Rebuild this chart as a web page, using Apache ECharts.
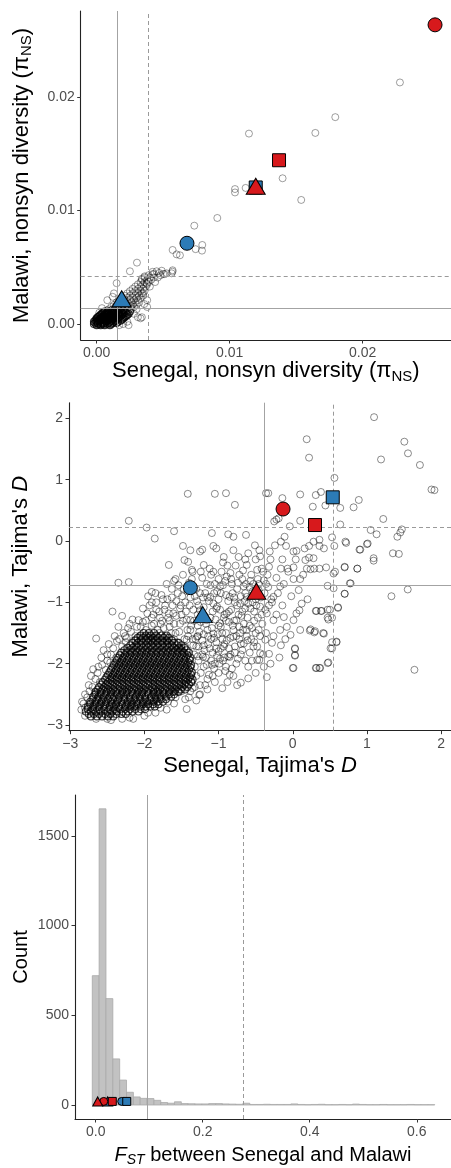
<!DOCTYPE html>
<html><head><meta charset="utf-8">
<script src="https://cdn.jsdelivr.net/npm/echarts@6/dist/echarts.min.js"></script>
<style>html,body{margin:0;padding:0;background:#fff}#c{width:451px;height:1168px}</style>
</head><body><div id="c"></div><script>
// ---------- Panel 1: nonsynonymous diversity ----------
const p1Ticks = [0, 0.01, 0.02];
const p1VLines = [0.00158, 0.0039];   // solid, dashed
const p1HLines = [0.00138, 0.00424];  // solid, dashed
const p1Red = [[0.02544, 0.02638], [0.01371, 0.01444], [0.01196, 0.01215]];   // circle, square, triangle
const p1Blue = [[0.00679, 0.00712], [0.01196, 0.01204], [0.00188, 0.00223]];
const p1Sparse = [
[0.0228,0.0213],[0.01794,0.01824],[0.01644,0.01685],[0.01145,0.01679],[0.01398,0.01285],[0.01538,0.01094],
[0.0104,0.0116],[0.0104,0.0119],[0.0112,0.0120],[0.00907,0.00935],[0.00734,0.00867],
[0.00794,0.00697],[0.00792,0.00647],[0.00744,0.0066],[0.00571,0.00653],[0.00601,0.00614],[0.00626,0.00606],
[0.00571,0.00474],[0.00501,0.00441],[0.00451,0.00465],[0.00489,0.0047],[0.00526,0.00447],[0.00564,0.00447],[0.00570,0.00462],
[0.00303,0.00541],[0.0025,0.00465],[0.00376,0.00359],[0.0042,0.0044],[0.0039,0.0043],[0.0036,0.0042],[0.0034,0.0040],
[0.0015,0.0036],[0.0008,0.0021],[0.0013,0.0027],[0.0034,0.0006],[0.0033,0.0005],[0.0023,0.0002],[0.0028,0.0009],
[0.0038,0.0015],[0.0026,0.0016],[0.0030,0.0013],[0.0020,0.0000],[0.0024,-0.0001],[0.0017,-0.0001],[0.0004,0.0014],
[0.0002,0.0010],[0.0012,0.0024],[0.0038,0.0021],[0.0035,0.0027],[0.0040,0.0033],[0.0044,0.0037],[0.0046,0.0041],
[0.0042,0.0046],[0.0048,0.0043],[0.00358,0.00176],[0.0031,0.0006],[0.0047,0.0045],[0.0051,0.0044],[0.0043,0.0044]
];
const p1CoreRows = [
[-0.0001,[0.0000,0.0003,0.0006,0.0010]],
[0.0000,[-0.0002,0.0001,0.0003,0.0005,0.0008,0.0011]],
[0.0001,[-0.0001,0.0001,0.0004,0.0006,0.0009,0.0012,0.0015]],
[0.0002,[-0.0002,0.0000,0.0002,0.0005,0.0007,0.0010,0.0013,0.0016]],
[0.0003,[-0.0001,0.0001,0.0003,0.0006,0.0008,0.0011,0.0014,0.0018]],
[0.0004,[0.0000,0.0002,0.0004,0.0007,0.0009,0.0012,0.0015,0.0019]],
[0.0005,[0.0000,0.0003,0.0005,0.0008,0.0010,0.0013,0.0016,0.0020]],
[0.0006,[0.0001,0.0004,0.0006,0.0009,0.0011,0.0014,0.0017,0.0021]],
[0.0007,[0.0002,0.0005,0.0007,0.0010,0.0012,0.0015,0.0018,0.0022]],
[0.0008,[0.0003,0.0006,0.0008,0.0011,0.0013,0.0016,0.0019,0.0023]],
[0.0009,[0.0004,0.0007,0.0009,0.0012,0.0014,0.0017,0.0020,0.0024]],
[0.0010,[0.0005,0.0008,0.0011,0.0013,0.0016,0.0019,0.0022]],
[0.0011,[0.0006,0.0009,0.0012,0.0015,0.0018,0.0021,0.0025]]
];
const p1BandRows = [
[0.0012,[0.0008,0.0011,0.0014,0.0017,0.0020,0.0023]],
[0.0013,[0.0009,0.0012,0.0016,0.0019,0.0022,0.0026]],
[0.0015,[0.0011,0.0014,0.0018,0.0021,0.0024,0.0028]],
[0.0017,[0.0013,0.0017,0.0020,0.0023,0.0027,0.0030]],
[0.0019,[0.0015,0.0019,0.0022,0.0026,0.0029,0.0032]],
[0.0021,[0.0017,0.0021,0.0025,0.0028,0.0031]],
[0.0023,[0.0019,0.0023,0.0027,0.0030,0.0033]],
[0.0025,[0.0021,0.0025,0.0029,0.0032,0.0035]],
[0.0027,[0.0023,0.0027,0.0031,0.0034]],
[0.0029,[0.0025,0.0029,0.0033,0.0036]],
[0.0031,[0.0027,0.0031,0.0035]],
[0.0033,[0.0029,0.0033,0.0037]],
[0.0035,[0.0031,0.0035,0.0038]],
[0.0037,[0.0033,0.0036,0.0039]],
[0.0039,[0.0034,0.0038,0.0041]],
[0.0041,[0.0036,0.0040,0.0043]]
];

// ---------- Panel 2: Tajima's D ----------
const p2Ticks = [-3, -2, -1, 0, 1, 2];
const p2VLines = [-0.387, 0.548];
const p2HLines = [-0.723, 0.223];
const p2Red = [[-0.131, 0.522], [0.30, 0.261], [-0.49, -0.82]];
const p2Blue = [[-1.38, -0.76], [0.539, 0.713], [-1.213, -1.20]];
const p2Sparse = [
[1.096,2.02],[0.188,1.66],[0.22,1.36],[1.504,1.62],[1.553,1.43],[1.19,1.33],[1.714,1.24],[0.562,1.03],[1.87,0.84],[1.91,0.83],
[-1.415,0.77],[-1.05,0.77],[-0.90,0.78],[-0.78,0.59],[-0.36,0.78],[-0.33,0.78],[-0.14,0.70],[0.10,0.76],[0.27,0.56],[0.31,0.75],
[0.38,0.80],[0.44,0.58],[0.64,0.54],[0.82,0.55],[0.89,0.67],[1.22,0.36],[-2.21,0.33],[-1.97,0.22],[-1.86,0.04],[-1.6,0.16],
[-1.09,0.13],[-0.87,0.11],[-0.63,0.10],[-0.25,0.32],[-0.22,0.35],[-0.19,0.37],[-0.04,0.24],[0.10,0.33],[0.64,0.27],[1.05,0.18],[1.13,0.11],
[1.41,0.07],[1.47,0.19],[1.45,0.14],[1.00,-0.05],[0.72,-0.03],[0.90,-0.14],[1.09,-0.28],[1.09,-0.32],[1.35,-0.2],[1.43,-0.21],[0.87,-0.45],
[0.70,-0.42],[0.57,-0.50],[0.77,-0.69],[0.70,-0.86],[1.33,-0.9],[1.55,-0.79],[0.61,-1.08],[0.47,-1.12],[0.48,-1.28],[0.31,-1.14],
[0.38,-1.14],[0.24,-1.44],[0.30,-1.47],[0.10,-1.45],[0.41,-1.50],[0.59,-1.64],[0.51,-1.75],[0.47,-1.99],[0.31,-2.07],[0.36,-2.07],
[0.0,-2.07],[0.03,-1.87],[0.03,-1.75],[-0.16,-1.70],[1.64,-2.1],[0.09,-1.13],[0.01,-1.29],[-0.12,-1.24],[-0.03,-1.53],[-0.28,-1.66],
[-0.32,-1.84],[-0.35,-2.22],[-0.45,-1.94],[-0.70,-2.31],[-0.60,-2.24],[-0.85,-2.18],[-1.26,-2.51],[-1.43,-2.74],[-2.65,-1.59],[-2.43,-1.15],
[-2.37,-1.63],[-2.69,-2.09],[-2.30,-1.22],[-2.35,-1.4],[-2.08,-1.29],
[-0.51,-0.07],[-0.45,-0.15],[-0.31,-0.17],[-0.24,-0.07],[-0.16,-0.01],[-0.11,0.07],[-0.09,-0.08],[0.01,-0.17],[0.05,-0.16],[0.16,-0.12],
[0.22,-0.08],[0.28,-0.01],[0.36,0.02],[0.36,-0.08],[0.42,-0.12],[0.53,0.06],[0.56,-0.08],[0.71,-0.01],[0.91,-0.14],[1.01,-0.04],
[-0.16,-0.45],[-0.07,-0.45],[0.01,-0.43],[0.17,-0.31],[0.22,-0.27],[0.28,-0.28],[0.19,-0.45],[0.24,-0.46],[0.29,-0.45],[0.36,-0.45],
[0.45,-0.43],[0.55,-0.53],[0.70,-0.43],[0.87,-0.45],[0.01,-0.62],[0.10,-0.62],[0.47,-0.73],[0.55,-0.77],[0.78,-0.69],[0.70,-0.86],
[0.32,-1.14],[0.39,-1.14],[0.50,-1.12],[0.61,-1.09],[0.47,-1.25],[0.53,-1.25],[0.23,-1.46],[0.29,-1.49],[0.42,-1.51],[0.53,-1.65],
[0.59,-1.65],[0.53,-1.75],[0.03,-1.76],[0.03,-1.86],[0.48,-1.98],[0.32,-2.07],[0.37,-2.07],[0.01,-2.07],
[-1.38,-0.15],[-1.25,-0.17],[-1.41,-0.34],[-1.20,-0.39],[-1.03,-0.12],[-0.93,-0.26],[-0.80,-0.15],[-0.73,-0.26],[-0.62,-0.39],[-0.48,-0.47],
[-0.39,-0.64],[-1.07,-0.50],[-0.89,-0.58],[-0.66,-0.74],[-0.98,-0.74],[-1.11,-0.91],[-0.85,-0.91],[-0.62,-0.91],[-0.44,-1.07],[-0.35,-1.18],
[-0.26,-1.29],[-0.17,-1.45],[-0.08,-1.40],[0.05,-1.18],[0.12,-1.02],[-0.26,-0.91],[-0.17,-0.74],[-0.37,-1.61],[-0.44,-1.83],[-0.53,-1.72],
[-0.62,-1.45],[-0.76,-1.29],[-0.89,-1.18],[-0.98,-1.34],[-0.80,-1.56],[-0.66,-1.67],[-0.48,-1.94],[-0.39,-2.05],[-0.85,-1.89],[-0.93,-1.72],
[-1.07,-1.51],[-1.16,-1.29],[-1.02,-1.07],[-1.25,-1.13],[-1.38,-1.29],[-1.29,-1.56],[-1.43,-1.61],
[-2.35,-0.68],[-2.21,-0.67],[-1.90,-0.83],[-1.67,-0.39],[-1.48,-0.08],[-1.46,-0.31],[-1.36,-0.47],[-1.22,-0.14],[-1.07,-0.08],[-0.80,0.07],[-1.6,-0.65]
];
const p2Mid = [
[-1.9,-1.0],[-1.85,-0.85],[-1.8,-1.15],[-1.75,-0.95],[-1.7,-0.7],[-1.68,-1.25],[-1.62,-1.05],[-1.58,-0.62],[-1.55,-0.85],[-1.5,-1.2],
[-1.48,-0.55],[-1.45,-1.0],[-1.4,-0.68],[-1.35,-0.5],[-1.32,-0.9],[-1.28,-1.2],[-1.22,-0.6],[-1.18,-0.85],[-1.12,-0.45],[-1.08,-1.15],
[-1.05,-0.7],[-1.0,-0.95],[-0.96,-0.5],[-0.92,-1.2],[-0.88,-0.4],[-0.82,-0.7],[-0.78,-1.0],[-0.72,-0.55],[-0.68,-1.15],[-0.64,-0.3],
[-0.58,-0.75],[-0.54,-1.0],[-0.5,-0.3],[-0.46,-0.8],[-0.42,-0.45],[-0.38,-0.85],[-0.34,-0.55],[-0.3,-0.3],[-0.28,-1.0],[-0.22,-0.6],
[-0.2,-0.85],[-0.14,-0.3],[-0.12,-0.7],[-0.06,-0.5],[-0.02,-0.9],[0.04,-0.3],[0.08,-0.8],[0.14,-0.55],[0.2,-0.95],
[-1.6,-1.6],[-1.5,-1.75],[-1.42,-1.45],[-1.35,-1.6],[-1.28,-1.38],[-1.2,-1.7],[-1.15,-1.45],[-1.1,-1.6],[-1.05,-2.0],[-1.0,-1.8],
[-0.95,-1.6],[-0.9,-2.05],[-0.86,-1.75],[-0.8,-1.45],[-0.76,-2.0],[-0.72,-1.6],[-0.7,-1.85],[-0.66,-1.35],[-0.6,-2.05],[-0.56,-1.6],
[-0.52,-1.3],[-0.5,-2.15],[-0.46,-1.45],[-0.42,-1.2],[-0.4,-1.85],[-0.36,-1.5],[-0.32,-1.05],[-0.3,-2.0],[-0.26,-1.55],[-0.22,-1.2],
[-0.18,-1.9],[-0.14,-1.05],[-0.1,-1.6],[-1.3,-2.2],[-1.25,-2.35],[-1.2,-2.05],[-1.15,-2.25],[-1.1,-1.95],[-1.05,-2.3],[-1.0,-2.15],
[-0.95,-2.4],[-0.92,-1.9],[-0.88,-2.3],[-0.8,-2.2],[-0.75,-2.35],[-1.55,-2.45],[-1.45,-2.35],[-1.4,-2.55],[-1.35,-2.4],[-1.3,-2.6],
[-1.6,-2.65],[-1.7,-2.75],[-1.85,-2.8],[-2.0,-2.85],[-2.15,-2.9],[-2.3,-2.9],[-2.5,-2.9],[-2.65,-2.9],[-2.8,-2.85],[-2.85,-2.75],
[-2.82,-2.65],[-2.8,-2.5],[-2.75,-2.35],[-2.72,-2.2],[-2.66,-2.25],[-2.62,-2.05],[-2.58,-1.9],[-2.55,-1.78],[-2.5,-1.95],[-2.48,-1.68],
[-2.45,-1.85],[-2.4,-1.55],[-2.28,-1.5],[-2.25,-1.65],[-2.2,-1.35],[-2.12,-1.55],[-2.05,-1.4],[-1.98,-1.3],[-1.92,-1.55],[-1.88,-1.2],
[-1.82,-1.45],[-1.76,-1.3],[-1.72,-1.55],[-1.66,-1.4],[-1.58,-1.5],[-1.52,-1.35],[-1.46,-1.6],[-1.38,-1.45],[-1.34,-1.7],[-1.28,-1.55],
[-1.22,-1.85],[-1.18,-2.35],[-1.12,-1.75],[-1.28,-1.88],[-1.21,-1.89],[-1.02,-1.87],[-2.02,-1.1],[-1.95,-0.9],
[-1.32,-2.05],[-1.27,-1.95],[-1.24,-2.15],[-1.19,-1.78],[-1.16,-2.02],[-1.13,-2.18],[-1.08,-1.82],[-1.06,-2.08],[-1.03,-1.65],[-0.99,-2.0],
[-0.97,-1.75],[-0.94,-1.95],[-0.91,-2.12],[-0.89,-1.62],[-0.84,-1.85],[-0.82,-2.08],[-0.78,-1.72],[-0.74,-1.92],[-0.71,-1.5],[-0.68,-1.78],
[-0.64,-1.95],[-0.62,-1.55],[-0.58,-1.82],[-0.55,-1.42],[-0.52,-1.65],[-0.48,-1.72],[-0.44,-1.55],[-1.3,-1.72],[-1.26,-1.48],[-1.22,-1.62],
[-1.17,-1.35],[-1.14,-1.55],[-1.09,-1.42],[-1.04,-1.28],[-1.01,-1.52],[-0.97,-1.4],[-0.93,-1.25],[-0.9,-1.5],[-0.86,-1.32],[-0.83,-1.12],
[-0.79,-1.3],[-0.75,-1.05],[-0.72,-1.4],[-0.69,-1.22],[-0.65,-0.98],[-0.61,-1.25],[-0.57,-1.1],[-0.53,-0.88],[-0.49,-1.05],[-0.47,-1.25],
[-0.43,-0.92],[-0.41,-1.35],[-0.37,-1.12],[-0.33,-0.75],[-0.29,-0.95],
[-1.96,-1.18],[-1.93,-1.05],[-1.87,-1.35],[-1.84,-1.0],[-1.79,-1.25],[-1.77,-0.88],[-1.73,-1.12],[-1.69,-0.95],[-1.66,-1.3],[-1.63,-0.78],
[-1.61,-1.18],[-1.57,-0.98],[-1.54,-0.72],[-1.52,-1.1],[-1.49,-0.9],[-1.44,-1.15],[-1.42,-0.82],[-1.39,-1.05],[-1.36,-0.62],[-1.33,-1.3],
[-1.3,-0.78],[-1.27,-1.05],[-1.24,-0.5],[-1.21,-0.92],[-1.19,-1.22],[-1.16,-0.7],[-1.13,-0.98],[-1.1,-0.55],[-1.06,-0.85],[-1.03,-1.1],
[-1.0,-0.62],[-0.97,-0.85],[-0.94,-0.35],[-0.91,-0.65],[-0.87,-0.98],[-0.84,-0.52],[-0.81,-0.85],[-0.77,-0.4],[-0.74,-0.68],[-0.7,-0.9],
[-0.67,-0.48],[-0.63,-0.7],[-0.6,-0.2],[-0.56,-0.55],[-0.53,-0.7],[-0.47,-0.62],[-0.44,-0.25],[-0.4,-0.5],[-0.36,-0.7],[-0.32,-0.42],
[-2.84,-2.62],[-2.8,-2.72],[-2.77,-2.55],[-2.74,-2.45],[-2.7,-2.38],[-2.67,-2.5],[-2.63,-2.15],[-2.6,-2.3],[-2.57,-2.02],[-2.52,-2.1],
[-2.5,-1.85],[-2.46,-1.98],[-2.42,-1.75],[-2.38,-1.9],[-2.34,-1.6],[-2.3,-1.72],[-2.26,-1.55],[-2.22,-1.42],
[-2.45,-2.92],[-2.2,-2.88],[-1.95,-2.8],[-1.78,-2.72],[-1.68,-2.62],[-1.58,-2.55],[-1.5,-2.45],[-1.45,-2.58],[-1.38,-2.45],[-1.36,-2.3],
[-1.32,-2.38],[-1.25,-2.5],[-1.15,-2.42],[-1.08,-2.2],
[-1.86,-1.62],[-1.8,-1.5],[-1.74,-1.42],[-1.7,-1.62],[-1.64,-1.5],[-1.6,-1.35],[-1.56,-1.65],[-1.53,-1.48],[-1.48,-1.3],[-1.45,-1.72],
[-1.41,-1.55],[-1.37,-1.38],[-1.33,-1.85],[-1.31,-1.6],[-1.27,-1.72],[-1.24,-1.32],[-1.2,-1.52],[-1.17,-1.9],[-1.14,-1.68],[-1.11,-1.25],
[-1.09,-2.02],[-1.06,-1.58],[-1.03,-1.75],[-1.0,-1.38],[-0.98,-1.92],[-0.95,-1.5],[-0.92,-1.68],[-0.9,-1.3],[-0.87,-1.88],[-0.84,-1.58],
[-0.81,-1.38],[-0.78,-1.82],[-0.76,-1.55],[-0.73,-1.2],[-0.7,-1.68],[-0.67,-1.45],[-0.64,-1.1],[-0.61,-1.62],[-0.58,-1.38],[-0.55,-1.95],
[-0.52,-1.15],[-0.5,-1.5],
[-1.9,-1.25],[-1.84,-1.12],[-1.78,-1.35],[-1.72,-1.05],[-1.67,-1.18],[-1.63,-0.92],[-1.57,-1.22],[-1.51,-1.05],[-1.47,-0.78],[-1.43,-1.28],
[-1.38,-0.92],[-1.34,-1.12],[-1.29,-0.98],[-1.25,-0.85],[-1.2,-1.08],[-1.15,-0.92],[-1.11,-0.72],[-1.07,-1.02],[-1.02,-0.82],[-0.98,-1.12],
[-0.94,-0.72],[-0.9,-0.88],[-0.86,-1.15],[-0.83,-0.62],[-0.79,-0.92],[-0.75,-0.78],[-0.71,-1.02],[-0.68,-0.62],[-0.64,-0.85],[-0.6,-1.02],
[-0.57,-0.65],[-0.54,-0.82],[-0.5,-0.95],[-0.46,-0.7],
[-2.18,-1.48],[-2.14,-1.62],[-2.1,-1.4],[-2.06,-1.55],[-2.02,-1.32],[-1.98,-1.45],[-1.94,-1.62],[-1.9,-1.38],[-2.24,-1.58],[-2.16,-1.28]
];
const p2CoreRows = [
[-2.86,[-2.72,-2.64,-2.57,-2.49,-2.42]],
[-2.82,[-2.75,-2.68,-2.61,-2.53,-2.46,-2.38,-2.31,-2.25]],
[-2.78,[-2.79,-2.72,-2.65,-2.58,-2.50,-2.43,-2.37,-2.29,-2.22,-2.16,-2.08]],
[-2.74,[-2.76,-2.69,-2.61,-2.54,-2.47,-2.40,-2.33,-2.26,-2.19,-2.12,-2.05,-1.99]],
[-2.70,[-2.76,-2.69,-2.62,-2.55,-2.47,-2.41,-2.34,-2.26,-2.19,-2.13,-2.05,-1.98,-1.92,-1.86]],
[-2.66,[-2.73,-2.66,-2.59,-2.52,-2.44,-2.38,-2.30,-2.23,-2.16,-2.09,-2.02,-1.95,-1.88,-1.81]],
[-2.62,[-2.73,-2.66,-2.58,-2.52,-2.45,-2.37,-2.31,-2.23,-2.17,-2.10,-2.02,-1.96,-1.88,-1.82,-1.75]],
[-2.58,[-2.70,-2.63,-2.56,-2.49,-2.42,-2.35,-2.27,-2.20,-2.13,-2.06,-1.99,-1.92,-1.85,-1.78,-1.71]],
[-2.54,[-2.69,-2.62,-2.55,-2.47,-2.41,-2.34,-2.27,-2.20,-2.12,-2.06,-1.99,-1.91,-1.85,-1.78,-1.71,-1.64]],
[-2.50,[-2.66,-2.59,-2.52,-2.45,-2.37,-2.31,-2.24,-2.16,-2.10,-2.03,-1.95,-1.88,-1.81,-1.74,-1.67,-1.60]],
[-2.46,[-2.66,-2.59,-2.51,-2.45,-2.38,-2.30,-2.24,-2.17,-2.09,-2.03,-1.96,-1.88,-1.82,-1.75,-1.67,-1.61,-1.54]],
[-2.42,[-2.63,-2.56,-2.49,-2.42,-2.35,-2.28,-2.21,-2.14,-2.07,-2.00,-1.93,-1.86,-1.79,-1.72,-1.65,-1.58,-1.51,-1.45]],
[-2.38,[-2.61,-2.54,-2.47,-2.40,-2.33,-2.26,-2.19,-2.12,-2.05,-1.98,-1.90,-1.84,-1.77,-1.70,-1.63,-1.56,-1.49,-1.42]],
[-2.34,[-2.58,-2.51,-2.44,-2.37,-2.30,-2.23,-2.16,-2.09,-2.02,-1.95,-1.88,-1.81,-1.74,-1.67,-1.60,-1.53,-1.46,-1.40]],
[-2.30,[-2.56,-2.49,-2.42,-2.35,-2.28,-2.21,-2.14,-2.07,-2.00,-1.93,-1.86,-1.79,-1.72,-1.65,-1.58,-1.51,-1.44,-1.37]],
[-2.26,[-2.53,-2.46,-2.39,-2.32,-2.25,-2.18,-2.11,-2.04,-1.97,-1.90,-1.83,-1.76,-1.69,-1.62,-1.55,-1.48,-1.41,-1.35]],
[-2.22,[-2.51,-2.44,-2.37,-2.30,-2.23,-2.16,-2.09,-2.02,-1.95,-1.88,-1.81,-1.74,-1.67,-1.60,-1.53,-1.46,-1.39]],
[-2.18,[-2.49,-2.42,-2.35,-2.28,-2.21,-2.14,-2.07,-2.00,-1.93,-1.86,-1.79,-1.72,-1.65,-1.58,-1.51,-1.44,-1.37]],
[-2.14,[-2.47,-2.40,-2.33,-2.26,-2.19,-2.12,-2.05,-1.98,-1.91,-1.84,-1.77,-1.70,-1.63,-1.56,-1.49,-1.42,-1.36]],
[-2.10,[-2.45,-2.38,-2.31,-2.24,-2.17,-2.10,-2.03,-1.96,-1.89,-1.82,-1.75,-1.68,-1.61,-1.54,-1.47,-1.40]],
[-2.06,[-2.43,-2.36,-2.29,-2.22,-2.15,-2.08,-2.01,-1.94,-1.87,-1.80,-1.73,-1.66,-1.59,-1.52,-1.45,-1.38]],
[-2.02,[-2.41,-2.34,-2.27,-2.20,-2.13,-2.06,-1.99,-1.92,-1.85,-1.78,-1.71,-1.64,-1.57,-1.50,-1.43,-1.37]],
[-1.98,[-2.39,-2.32,-2.25,-2.18,-2.11,-2.04,-1.97,-1.90,-1.83,-1.76,-1.69,-1.62,-1.55,-1.48,-1.41]],
[-1.94,[-2.37,-2.30,-2.23,-2.16,-2.09,-2.02,-1.95,-1.88,-1.81,-1.74,-1.67,-1.60,-1.53,-1.46,-1.39]],
[-1.90,[-2.35,-2.28,-2.21,-2.14,-2.07,-2.00,-1.93,-1.86,-1.79,-1.72,-1.65,-1.58,-1.51,-1.44,-1.38]],
[-1.86,[-2.33,-2.26,-2.19,-2.12,-2.05,-1.98,-1.91,-1.84,-1.77,-1.70,-1.63,-1.56,-1.49,-1.42]],
[-1.82,[-2.31,-2.24,-2.17,-2.10,-2.03,-1.96,-1.89,-1.82,-1.75,-1.68,-1.61,-1.54,-1.47,-1.40]],
[-1.78,[-2.27,-2.20,-2.13,-2.06,-1.99,-1.92,-1.85,-1.78,-1.71,-1.64,-1.57,-1.50,-1.43]],
[-1.74,[-2.23,-2.16,-2.09,-2.02,-1.95,-1.88,-1.81,-1.74,-1.67,-1.60,-1.53,-1.46]],
[-1.70,[-2.19,-2.12,-2.05,-1.98,-1.91,-1.84,-1.77,-1.70,-1.63,-1.56,-1.50]],
[-1.66,[-2.16,-2.09,-2.02,-1.95,-1.88,-1.81,-1.74,-1.67,-1.60,-1.54]],
[-1.62,[-2.12,-2.05,-1.98,-1.91,-1.84,-1.77,-1.70,-1.63]],
[-1.58,[-2.09,-2.02,-1.95,-1.88,-1.81,-1.74,-1.67]],
[-1.54,[-2.05,-1.98,-1.91,-1.84,-1.77,-1.70]],
[-1.50,[-2.01,-1.94,-1.87]]
];

// ---------- Panel 3: FST histogram ----------
const fstTicks = [0, 0.2, 0.4, 0.6];
const countTicks = [0, 500, 1000, 1500];
const fstBinStart = -0.0064;
const fstBinWidth = 0.0128;
const fstCounts = [721,1651,593,257,139,71,45,37,36,26,14,10,18,8,7,6,6,8,8,6,5,4,10,3,3,4,3,3,3,6,3,2,3,4,2,2,3,2,5,3,2,2,3,2,2,2,3,2,2,2];
const fstVLines = [0.0959, 0.276];
const fstRed = [0.015, 0.031, 0.0037];   // circle, square, triangle
const fstBlue = [0.0486, 0.058, 0.0224];
const fstMarkY = 20;

const markerShapes = ['circle', 'rect', 'triangle'];
const RED = '#d7191c', BLUE = '#2c7bb6';
const F = 'Liberation Sans, Arial, Helvetica, sans-serif';

function flattenRows(rows) { const out = []; rows.forEach(r => r[1].forEach(x => out.push([x, r[0]]))); return out; }

function makeRich(fs, sfs) {
  const lh = Math.round(fs * 1.2);
  return {
    n: { fontSize: fs, fontFamily: F, color: '#000', lineHeight: lh },
    i: { fontSize: fs, fontFamily: F, color: '#000', lineHeight: lh, fontStyle: 'italic' },
    s: { fontSize: sfs, fontFamily: F, color: '#000', lineHeight: sfs, verticalAlign: 'bottom' },
    si: { fontSize: sfs, fontFamily: F, color: '#000', lineHeight: sfs, verticalAlign: 'bottom', fontStyle: 'italic' }
  };
}
function ax(gi, min, max, ticks, fmt, name, gap, fs, sfs) {
  return {
    type: 'value', gridIndex: gi, min, max, name, nameGap: gap, nameLocation: 'middle', nameMoveOverlap: false,
    nameTextStyle: { rich: makeRich(fs, sfs) },
    axisLine: { show: true, onZero: false, lineStyle: { color: '#222', width: 1.1 } },
    splitLine: { show: false },
    axisTick: { show: true, length: 3.5, lineStyle: { color: '#333' }, customValues: ticks },
    axisLabel: { customValues: ticks, formatter: fmt, color: '#4d4d4d', fontSize: 14, fontFamily: F, margin: 6 }
  };
}
const minus = v => String(v).replace('-', '\u2212');

function refLines(xi, yi, vl, hl) {
  const solid = { color: '#a3a3a3', width: 1, type: 'solid', opacity: 1 };
  const dashed = { color: '#9a9a9a', width: 1, type: [4, 3], opacity: 1 };
  const data = [];
  vl.forEach((v, k) => data.push({ xAxis: v, lineStyle: k === 0 ? solid : dashed }));
  hl.forEach((v, k) => data.push({ yAxis: v, lineStyle: k === 0 ? solid : dashed }));
  return {
    type: 'scatter', xAxisIndex: xi, yAxisIndex: yi, data: [], z: 4, silent: true,
    markLine: { silent: true, symbol: 'none', precision: 10, label: { show: false }, animation: false, data }
  };
}
function bgSeries(xi, yi, pts, alpha, lw) {
  return {
    type: 'scatter', xAxisIndex: xi, yAxisIndex: yi, data: pts, symbol: 'circle', symbolSize: 7, z: 2, silent: true,
    itemStyle: { color: 'rgba(0,0,0,0)', borderColor: 'rgba(0,0,0,' + alpha + ')', borderWidth: lw, opacity: 1 }
  };
}
function hlSeries(xi, yi, pts, color, big) {
  const sizes = big ? [14, 13, [19, 16]] : [8, 8, [10, 9]];
  return {
    type: 'scatter', xAxisIndex: xi, yAxisIndex: yi, z: 6, silent: true,
    data: pts.map((p, k) => ({ value: p, symbol: markerShapes[k], symbolSize: sizes[k] })),
    itemStyle: { color, borderColor: '#000', borderWidth: 1, opacity: 1 }
  };
}

const histData = fstCounts.map((c, i) => [fstBinStart + i * fstBinWidth, fstBinStart + (i + 1) * fstBinWidth, c]);

const option = {
  animation: false,
  backgroundColor: '#fff',
  grid: [
    { left: 80.7, top: 11, width: 451 - 80.7, height: 329 },
    { left: 69, top: 402.7, width: 451 - 69, height: 328 },
    { left: 75, top: 795, width: 451 - 75, height: 330 }
  ],
  xAxis: [
    ax(0, -0.0012, 0.02664, p1Ticks, v => v.toFixed(2), '{n|Senegal, nonsyn diversity (\u03C0}{s|NS}{n|)}', 18, 22, 15),
    ax(1, -3.016, 2.133, p2Ticks, minus, "{n|Senegal, Tajima's }{i|D}", 22, 22, 15),
    ax(2, -0.0387, 0.664, fstTicks, v => v.toFixed(1), '{i|F}{si|ST}{n| between Senegal and Malawi}', 24, 20, 14)
  ],
  yAxis: [
    ax(0, -0.00141, 0.0276, p1Ticks, v => v.toFixed(2), '{n|Malawi, nonsyn diversity (\u03C0}{s|NS}{n|)}', 46, 22, 15),
    ax(1, -3.093, 2.256, p2Ticks, minus, "{n|Malawi, Tajima's }{i|D}", 35, 22, 15),
    ax(2, -78, 1728, countTicks, v => String(v), '{n|Count}', 42, 20, 14)
  ],
  series: [
    bgSeries(0, 0, p1Sparse, 0.42, 0.9),
    bgSeries(0, 0, flattenRows(p1BandRows), 0.42, 0.9),
    bgSeries(0, 0, flattenRows(p1CoreRows), 0.8, 1.2),
    refLines(0, 0, p1VLines, p1HLines),
    hlSeries(0, 0, p1Blue, BLUE, true),
    hlSeries(0, 0, p1Red, RED, true),

    bgSeries(1, 1, p2Sparse, 0.5, 0.9),
    bgSeries(1, 1, p2Mid, 0.5, 0.9),
    bgSeries(1, 1, flattenRows(p2CoreRows), 0.75, 1.1),
    refLines(1, 1, p2VLines, p2HLines),
    hlSeries(1, 1, p2Blue, BLUE, true),
    hlSeries(1, 1, p2Red, RED, true),

    {
      type: 'custom', xAxisIndex: 2, yAxisIndex: 2, data: histData, z: 2, silent: true,
      encode: { x: [0, 1], y: 2 },
      renderItem: function (params, api) {
        const a = api.coord([api.value(0), api.value(2)]);
        const b = api.coord([api.value(1), 0]);
        return { type: 'rect', shape: { x: a[0], y: a[1], width: b[0] - a[0], height: b[1] - a[1] },
          style: { fill: '#c2c2c2', stroke: '#aaaaaa', lineWidth: 0.8 } };
      }
    },
    refLines(2, 2, fstVLines, []),
    hlSeries(2, 2, fstBlue.map(x => [x, fstMarkY]), BLUE, false),
    hlSeries(2, 2, fstRed.map(x => [x, fstMarkY]), RED, false)
  ]
};
const chart = echarts.init(document.getElementById('c'), null, { renderer: 'canvas' });
chart.setOption(option);
</script></body></html>
